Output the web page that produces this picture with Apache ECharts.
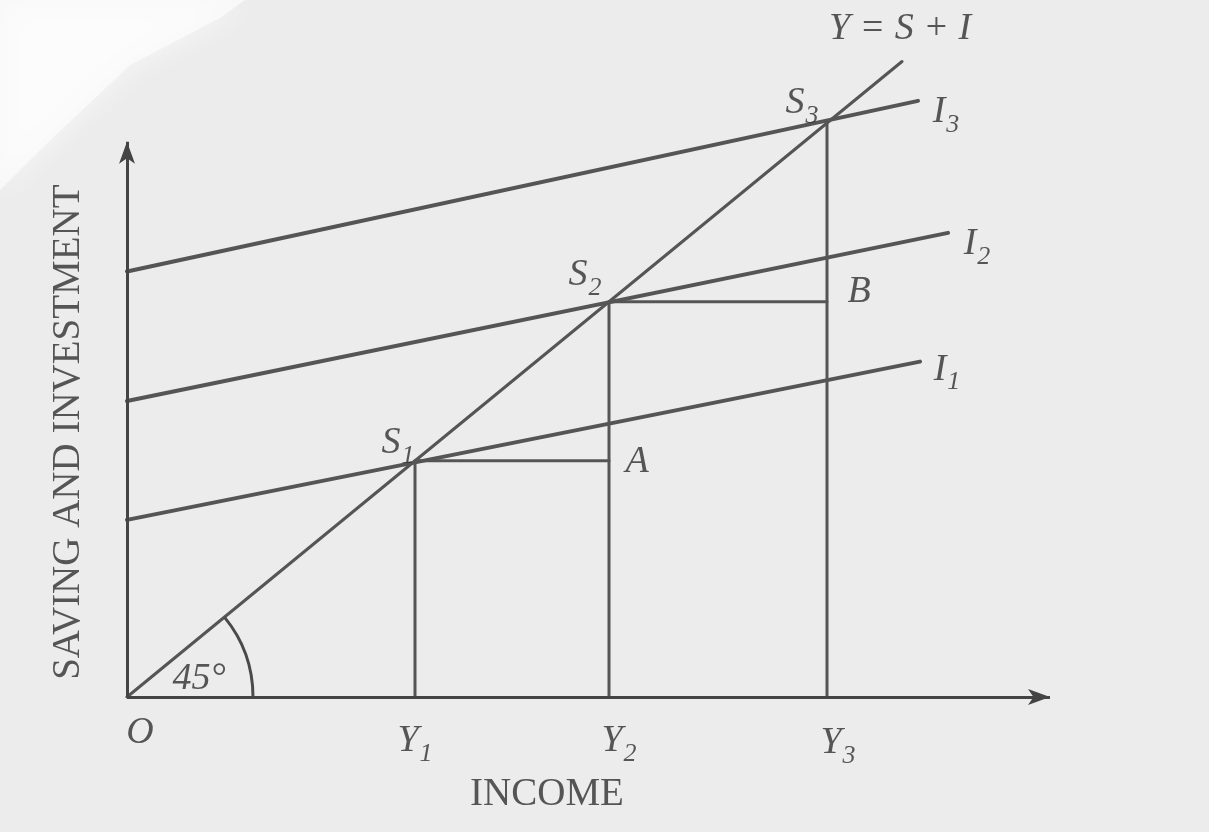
<!DOCTYPE html>
<html><head><meta charset="utf-8">
<script src="https://cdn.jsdelivr.net/npm/echarts@6/dist/echarts.min.js"></script>
<style>html,body{margin:0;padding:0;background:#ececec}#c{width:1209px;height:832px}</style>
</head><body><div id="c"></div>
<script>
// ---- data (income units on x, saving/investment units on y) ----
const incomeLevels = [28.8, 48.2, 70.0];      // Y1, Y2, Y3 (equilibria, on the 45° line S = Y)
const subscripts = ['1', '2', '3'];
const investStart = [21.6, 36.1, 51.9];       // I1, I2, I3 at zero income
const investEndX = [79.3, 82.1, 79.1];
const investEndY = [40.9, 56.6, 72.7];
const lineEnd45 = 77.5;                        // end of Y = S + I line
const xAxisEnd = 92.3;
const yAxisEnd = 67.7;
const pointNames = ['A', 'B'];
const angleRadius = 12.6;
const incomeTitle = 'INCOME';
const valueTitle = 'SAVING AND INVESTMENT';
const equationText = 'Y = S + I';

const FONT = '"Liberation Serif", "DejaVu Serif", serif';
const INK = '#303030';
const LINE = '#555555';

const chart = echarts.init(document.getElementById('c'), null, {renderer: 'canvas'});

function seg(name, pts, width) {
  return {
    name, type: 'line', data: pts, showSymbol: false, symbol: 'none', silent: true,
    lineStyle: {color: LINE, width: width || 3.5, cap: 'round'}, z: 3
  };
}

const series = [];
// 45 degree line (Y = S + I) with the axes drawn as arrows
series.push(Object.assign(seg('Y=S+I', [[0, 0], [lineEnd45, lineEnd45]], 3), {
  markLine: {
    silent: true, symbol: ['none', 'arrow'], symbolSize: [12, 22], animation: false,
    label: {show: false},
    lineStyle: {color: '#444', width: 3, type: 'solid'},
    data: [
      [{coord: [0, 0]}, {coord: [xAxisEnd, 0]}],
      [{coord: [0, 0]}, {coord: [0, yAxisEnd]}]
    ]
  }
}));
// investment lines
investStart.forEach((a, i) => series.push(seg('I' + subscripts[i], [[0, a], [investEndX[i], investEndY[i]]], 4)));
// verticals from the income axis up to the equilibria
incomeLevels.forEach((y, i) => series.push(seg('v' + i, [[y, 0], [y, y]], 3)));
// horizontals S1 -> A and S2 -> B
series.push(seg('S1A', [[incomeLevels[0], incomeLevels[0]], [incomeLevels[1], incomeLevels[0]]], 3));
series.push(seg('S2B', [[incomeLevels[1], incomeLevels[1]], [incomeLevels[2], incomeLevels[1]]], 3));
// 45° angle arc
series.push({
  type: 'custom', silent: true, data: [[0, 0]], z: 4,
  renderItem(params, api) {
    const o = api.coord([api.value(0), api.value(1)]);
    const r = api.size([angleRadius, 0])[0];
    const e = api.coord([lineEnd45, lineEnd45]);
    const ang = Math.atan2(e[1] - o[1], e[0] - o[0]);
    return {type: 'arc', shape: {cx: o[0], cy: o[1], r: r, startAngle: ang, endAngle: 0, clockwise: true},
      style: {stroke: '#4a4a4a', lineWidth: 3, fill: null}};
  }
});

const rich = {
  m: {fontFamily: FONT, fontStyle: 'italic', fontSize: 38, lineHeight: 38, color: INK, verticalAlign: 'top'},
  s: {fontFamily: FONT, fontStyle: 'italic', fontSize: 26, lineHeight: 26, padding: [19, 0, 0, 1], color: INK, verticalAlign: 'top'},
  u: {fontFamily: FONT, fontSize: 39, color: INK}
};
function lab(x, y, text, offset, rotate) {
  return {value: [x, y], label: {formatter: text, offset: offset, rotate: rotate || 0}};
}
const labels = [];
labels.push(lab(lineEnd45, lineEnd45, '{m|' + equationText + '}', [-2, -32]));
const sOff = [[-17, -18], [-24, -27], [-25, -20]];
incomeLevels.forEach((y, i) => labels.push(lab(y, y, '{m|S}{s|' + subscripts[i] + '}', sOff[i])));
const iOff = [[27, 8], [29, 11], [28, 11]];
investStart.forEach((a, i) => labels.push(lab(investEndX[i], investEndY[i], '{m|I}{s|' + subscripts[i] + '}', iOff[i])));
labels.push(lab(incomeLevels[1], incomeLevels[0], '{m|' + pointNames[0] + '}', [28, 1]));
labels.push(lab(incomeLevels[2], incomeLevels[1], '{m|' + pointNames[1] + '}', [32, -10]));
labels.push(lab(0, 0, '{m|O}', [13, 36]));
const yOff = [[0, 44], [10, 44], [11, 46]];
incomeLevels.forEach((y, i) => labels.push(lab(y, 0, '{m|Y}{s|' + subscripts[i] + '}', yOff[i])));
labels.push(lab(0, 0, '{m|45°}', [72, -18]));
labels.push(lab(42, 0, '{u|' + incomeTitle + '}', [0, 98]));
labels.push(lab(0, 32.3, '{u|' + valueTitle + '}', [0, -58], 90));

series.push({
  type: 'scatter', silent: true, symbolSize: 0, data: labels, z: 10,
  label: {show: true, position: 'inside', rich: rich}
});

chart.setOption({
  backgroundColor: '#ececec',
  animation: false,
  grid: {left: 127, right: 82, top: 41, bottom: 135},
  xAxis: {type: 'value', min: 0, max: 100, show: false},
  yAxis: {type: 'value', min: 0, max: 80, show: false},
  graphic: [{
    type: 'polygon', silent: true, z: -1,
    shape: {points: [[0, 0], [245, 0], [220, 18], [130, 65], [40, 150], [0, 190]]},
    style: {fill: 'rgba(255,255,255,0.6)', shadowBlur: 30, shadowColor: '#ffffff'}
  }],
  series: series
});
</script>
</body></html>
